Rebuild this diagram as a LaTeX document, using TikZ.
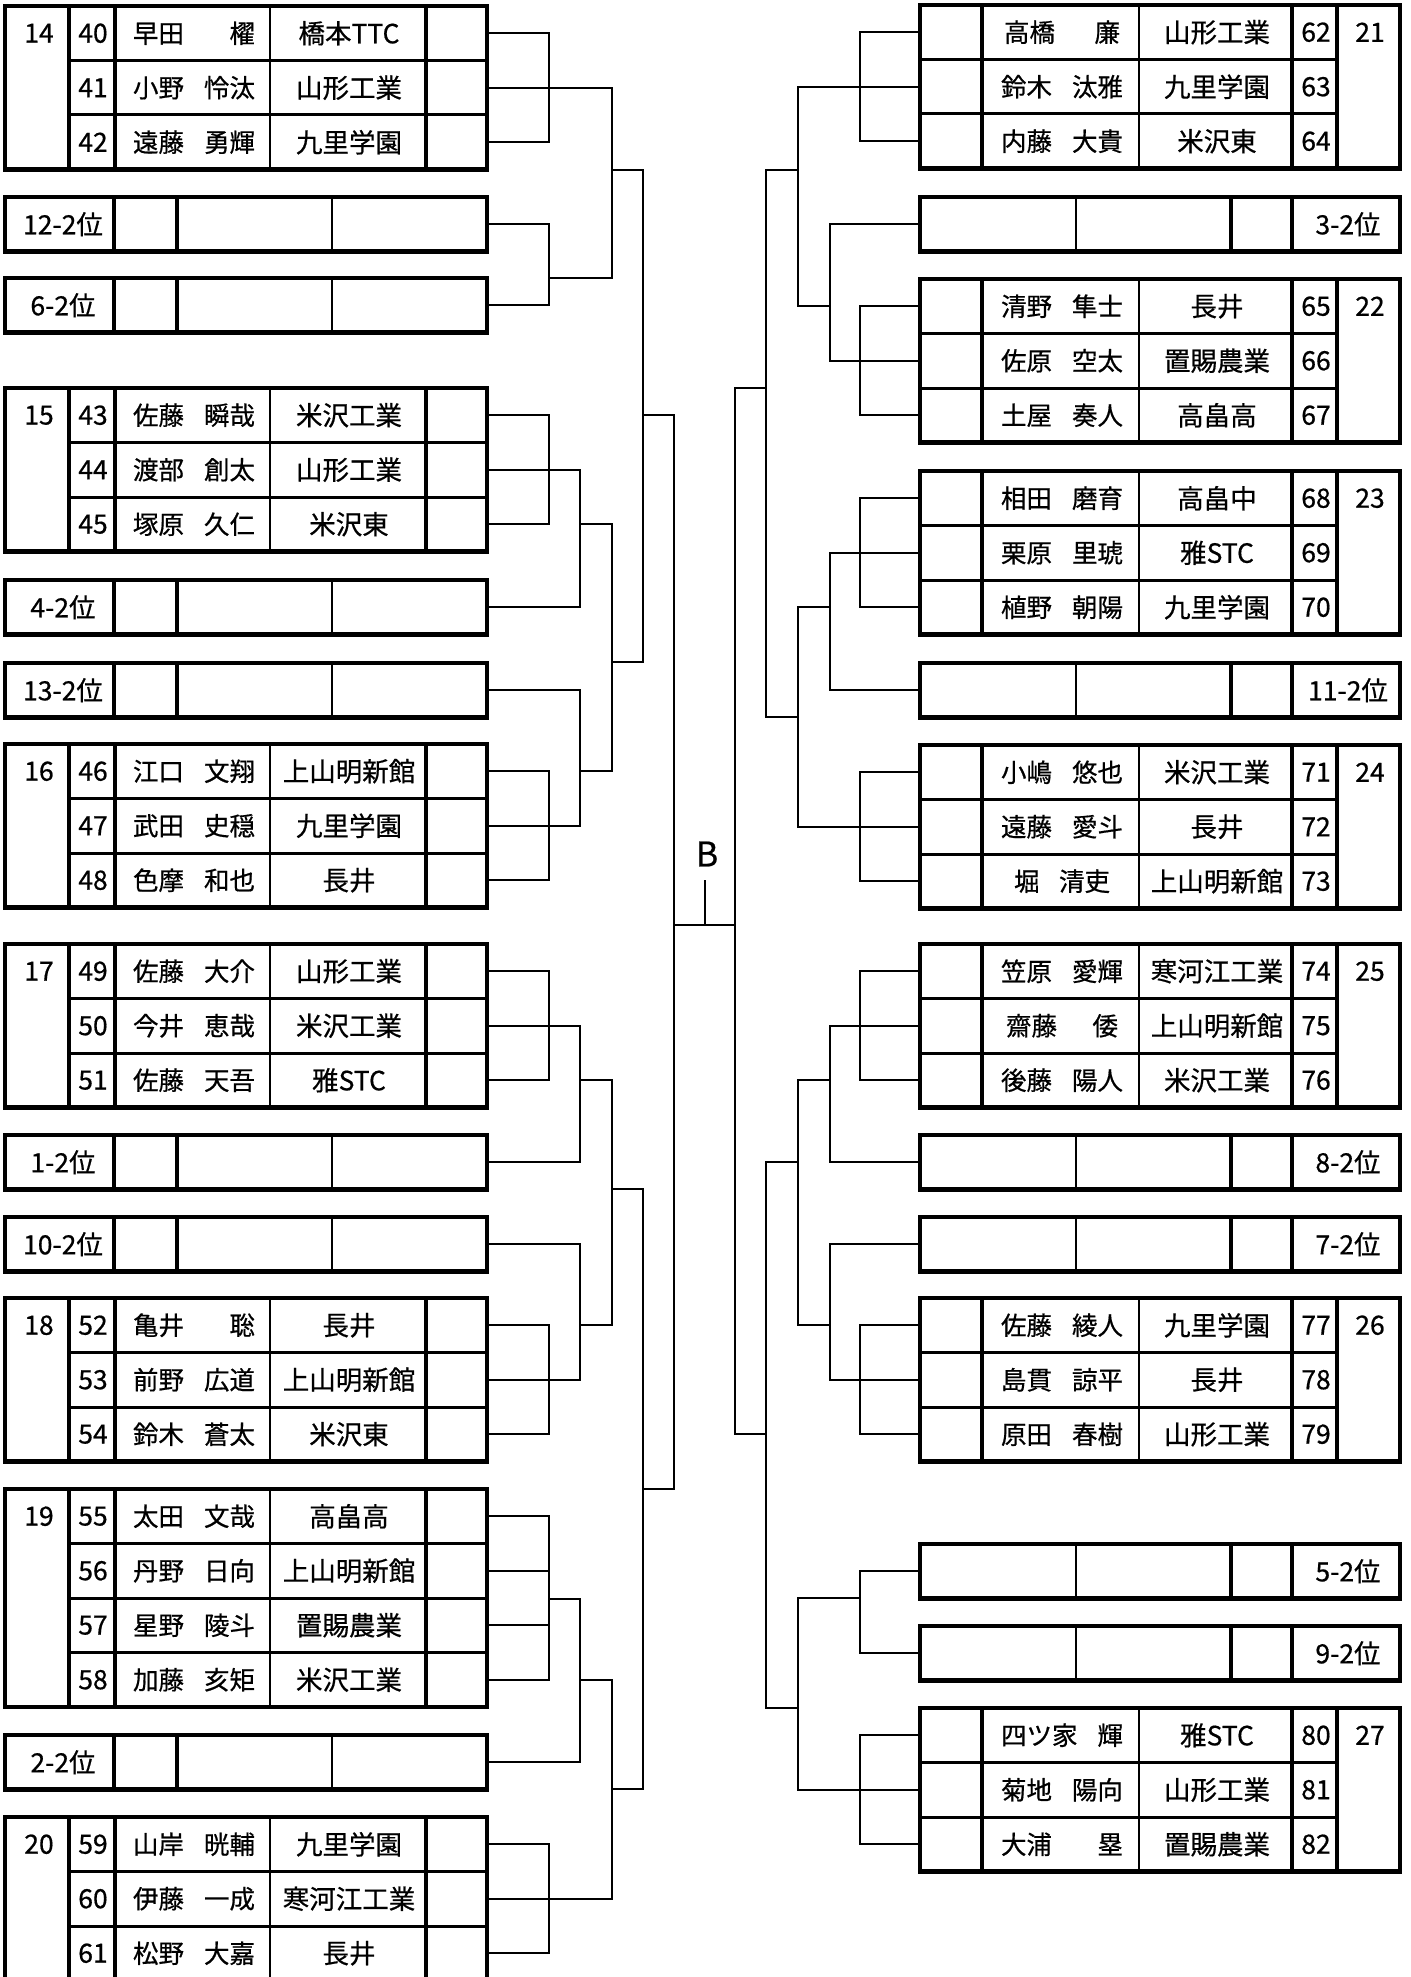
\documentclass[tikz,border=0pt]{standalone}
\usepackage{fontspec}
\setmainfont{Noto Sans CJK JP}[FakeBold=0.6]
\newfontfamily\jpbold{Noto Sans CJK JP}[FakeBold=0.6]
\tikzset{
  bl/.style={line width=2.4pt, line cap=rect, line join=miter},
  ob/.style={line width=4.2pt},
  tk/.style={line width=4pt},
  tn/.style={line width=2.2pt},
  rs/.style={line width=3pt},
  txt/.style={font=\jpbold\fontsize{26.5}{31}\selectfont, inner sep=0pt, anchor=center},
  blabel/.style={font=\fontsize{34}{40}\selectfont, inner sep=0pt, anchor=center},
}
% player name: family left, given name right, in a box of fixed width
\newcommand{\nm}[3][122]{{\fontsize{25.5}{30}\selectfont\makebox[#1pt][s]{#2\hfill#3}}}
% left group box: #1 group label, #2 top, #3 rows, #4 list num/name/school
\newcommand{\LGroup}[4]{%
  \pgfmathsetmacro\bkB{#2+#3*54.5}%
  \draw[ob] (5,#2) rectangle (487,\bkB);
  \draw[tk] (69,#2) -- (69,\bkB) (115,#2) -- (115,\bkB) (426,#2) -- (426,\bkB);
  \draw[tn] (270,#2) -- (270,\bkB);
  \foreach[count=\i] \n/\p/\s in {#4} {
    \pgfmathsetmacro\yc{#2+(\i-0.5)*54.5}
    \pgfmathsetmacro\ys{#2+\i*54.5}
    \node[txt] (n\n) at (93,\yc) {\n};
    \node[txt] (m\n) at (194,\yc) {\p};
    \node[txt] (s\n) at (349,\yc) {\s};
    \coordinate (p\n) at (487,\yc);
    \ifnum\i<#3 \draw[rs] (69,\ys) -- (487,\ys); \fi
  }
  \node[txt] (g#1) at (39,#2+27.25) {#1};
}
% left seed box: #1 id, #2 label, #3 top
\newcommand{\LSeed}[3]{%
  \pgfmathsetmacro\bkB{#3+54.5}%
  \draw[ob] (5,#3) rectangle (487,\bkB);
  \draw[tk] (114,#3) -- (114,\bkB) (177,#3) -- (177,\bkB);
  \draw[tn] (332,#3) -- (332,\bkB);
  \node[txt] (l#1) at (63,#3+27.25) {#2};
  \coordinate (q#1) at (487,#3+27.25);
}
% right group box
\newcommand{\RGroup}[4]{%
  \pgfmathsetmacro\bkB{#2+#3*54.5}%
  \draw[ob] (920,#2) rectangle (1400,\bkB);
  \draw[tk] (982,#2) -- (982,\bkB) (1292,#2) -- (1292,\bkB) (1337,#2) -- (1337,\bkB);
  \draw[tn] (1139,#2) -- (1139,\bkB);
  \foreach[count=\i] \n/\p/\s in {#4} {
    \pgfmathsetmacro\yc{#2+(\i-0.5)*54.5}
    \pgfmathsetmacro\ys{#2+\i*54.5}
    \node[txt] (n\n) at (1316,\yc) {\n};
    \node[txt] (m\n) at (1062,\yc) {\p};
    \node[txt] (s\n) at (1217,\yc) {\s};
    \coordinate (p\n) at (920,\yc);
    \ifnum\i<#3 \draw[rs] (920,\ys) -- (1337,\ys); \fi
  }
  \node[txt] (g#1) at (1370,#2+27.25) {#1};
}
% right seed box
\newcommand{\RSeed}[3]{%
  \pgfmathsetmacro\bkB{#3+54.5}%
  \draw[ob] (920,#3) rectangle (1400,\bkB);
  \draw[tn] (1076,#3) -- (1076,\bkB);
  \draw[tk] (1231,#3) -- (1231,\bkB) (1292,#3) -- (1292,\bkB);
  \node[txt] (l#1) at (1348,#3+27.25) {#2};
  \coordinate (q#1) at (920,#3+27.25);
}
% connectors
\newcommand{\bkJ}[3]{\draw[bl] (#1) -| (#2 -| #3) -- (#2);}
\newcommand{\bkH}[2]{\draw[bl] (#1) -- (#1 -| #2);}
\newcommand{\bkV}[3]{\draw[bl] (#1 -| #3) -- (#2 -| #3);}
\newcommand{\bkS}[3]{\draw[bl] (#1 -| #2) -- (#1 -| #3);}
\begin{document}
\begin{tikzpicture}[x=1pt,y=-1pt]
\useasboundingbox (0,0) rectangle (1410,1977);
\fill[white] (0,0) rectangle (1410,1977);
\clip (0,0) rectangle (1410,1977);

% ---------- left boxes ----------
\LGroup{14}{6}{3}{40/\nm{早田}{櫂}/橋本TTC, 41/\nm{小野}{怜汰}/山形工業, 42/\nm{遠藤}{勇輝}/九里学園}
\LSeed{12}{12-2位}{197}
\LSeed{6}{6-2位}{278}
\LGroup{15}{388}{3}{43/\nm{佐藤}{瞬哉}/米沢工業, 44/\nm{渡部}{創太}/山形工業, 45/\nm{塚原}{久仁}/米沢東}
\LSeed{4}{4-2位}{580}
\LSeed{13}{13-2位}{663}
\LGroup{16}{744}{3}{46/\nm{江口}{文翔}/上山明新館, 47/\nm{武田}{史穏}/九里学園, 48/\nm{色摩}{和也}/長井}
\LGroup{17}{944}{3}{49/\nm{佐藤}{大介}/山形工業, 50/\nm{今井}{恵哉}/米沢工業, 51/\nm{佐藤}{天吾}/雅STC}
\LSeed{1}{1-2位}{1135}
\LSeed{10}{10-2位}{1217}
\LGroup{18}{1298}{3}{52/\nm{亀井}{聡}/長井, 53/\nm{前野}{広道}/上山明新館, 54/\nm{鈴木}{蒼太}/米沢東}
\LGroup{19}{1489}{4}{55/\nm{太田}{文哉}/高畠高, 56/\nm{丹野}{日向}/上山明新館, 57/\nm{星野}{陵斗}/置賜農業, 58/\nm{加藤}{亥矩}/米沢工業}
\LSeed{2}{2-2位}{1735}
\LGroup{20}{1817}{3}{59/\nm{山岸}{晄輔}/九里学園, 60/\nm{伊藤}{一成}/寒河江工業, 61/\nm{松野}{大嘉}/長井}

% ---------- right boxes ----------
\RGroup{21}{5}{3}{62/\nm[116]{高橋}{廉}/山形工業, 63/\nm{鈴木}{汰雅}/九里学園, 64/\nm{内藤}{大貴}/米沢東}
\RSeed{3}{3-2位}{197}
\RGroup{22}{279}{3}{65/\nm{清野}{隼士}/長井, 66/\nm{佐原}{空太}/置賜農業, 67/\nm{土屋}{奏人}/高畠高}
\RGroup{23}{471}{3}{68/\nm{相田}{磨育}/高畠中, 69/\nm{栗原}{里琥}/雅STC, 70/\nm{植野}{朝陽}/九里学園}
\RSeed{11}{11-2位}{663}
\RGroup{24}{745}{3}{71/\nm{小嶋}{悠也}/米沢工業, 72/\nm{遠藤}{愛斗}/長井, 73/\nm[96]{堀}{清吏}/上山明新館}
\RGroup{25}{944}{3}{74/\nm{笠原}{愛輝}/寒河江工業, 75/\nm[112]{齋藤}{倭}/上山明新館, 76/\nm{後藤}{陽人}/米沢工業}
\RSeed{8}{8-2位}{1135}
\RSeed{7}{7-2位}{1217}
\RGroup{26}{1298}{3}{77/\nm{佐藤}{綾人}/九里学園, 78/\nm{島貫}{諒平}/長井, 79/\nm{原田}{春樹}/山形工業}
\RSeed{5}{5-2位}{1544}
\RSeed{9}{9-2位}{1626}
\RGroup{27}{1708}{3}{80/\nm{四ツ家}{輝}/雅STC, 81/\nm{菊地}{陽向}/山形工業, 82/\nm{大浦}{塁}/置賜農業}

% ---------- bracket columns and levels ----------
\coordinate (L1) at (549,0);
\coordinate (L2) at (580,0);
\coordinate (L3) at (612,0);
\coordinate (L4) at (643,0);
\coordinate (L5) at (674,0);
\coordinate (R1) at (860,0);
\coordinate (R2) at (830,0);
\coordinate (R3) at (798,0);
\coordinate (R4) at (766,0);
\coordinate (R5) at (735,0);
\coordinate (y170) at (0,170);
\coordinate (y278) at (0,278);
\coordinate (y662) at (0,662);
\coordinate (y1189) at (0,1189);
\coordinate (y1599) at (0,1599);
\coordinate (y1789) at (0,1789);
\coordinate (y1489) at (0,1489);
\coordinate (y925) at (0,925);
\coordinate (y717) at (0,717);
\coordinate (y388) at (0,388);
\coordinate (y1598) at (0,1598);
\coordinate (y1708) at (0,1708);

% ---------- left connectors ----------
\bkJ{p40}{p42}{L1}
\bkH{p41}{L3}
\bkJ{q12}{q6}{L1}
\bkS{y278}{L1}{L3}
\bkV{p41}{y278}{L3}
\bkS{y170}{L3}{L4}

\bkJ{p43}{p45}{L1}
\bkJ{p44}{q4}{L2}
\bkS{p45}{L2}{L3}
\bkJ{q13}{p47}{L2}
\bkJ{p46}{p48}{L1}
\bkS{p46}{L2}{L3}
\bkV{p45}{p46}{L3}
\bkS{y662}{L3}{L4}
\bkV{y170}{y662}{L4}
\bkS{p43}{L4}{L5}

\bkJ{p49}{p51}{L1}
\bkJ{p50}{q1}{L2}
\bkS{p51}{L2}{L3}
\bkJ{q10}{p53}{L2}
\bkJ{p52}{p54}{L1}
\bkS{p52}{L2}{L3}
\bkV{p51}{p52}{L3}
\bkS{y1189}{L3}{L4}

\bkJ{p55}{p58}{L1}
\bkH{p56}{L1}
\bkH{p57}{L1}
\bkS{y1599}{L1}{L2}
\bkH{q2}{L2}
\bkV{y1599}{q2}{L2}
\bkS{p58}{L2}{L3}
\bkJ{p59}{p61}{L1}
\bkH{p60}{L3}
\bkV{p58}{p60}{L3}
\bkS{y1789}{L3}{L4}
\bkV{y1189}{y1789}{L4}
\bkS{y1489}{L4}{L5}
\bkV{p43}{y1489}{L5}

% ---------- centre ----------
\bkS{y925}{L5}{R5}
\node[blabel] (B) at (707,854) {B};
\coordinate (bstem) at (705,881);
\draw[bl] (bstem) -- (bstem |- y925);

% ---------- right connectors ----------
\bkJ{p62}{p64}{R1}
\bkH{p63}{R3}
\bkH{q3}{R2}
\bkJ{p65}{p67}{R1}
\bkH{p66}{R2}
\bkV{q3}{p66}{R2}
\bkS{p65}{R2}{R3}
\bkV{p63}{p65}{R3}
\bkS{y170}{R3}{R4}

\bkJ{p68}{p70}{R1}
\bkJ{p69}{q11}{R2}
\bkS{p70}{R2}{R3}
\bkJ{p71}{p73}{R1}
\bkH{p72}{R3}
\bkV{p70}{p72}{R3}
\bkS{y717}{R3}{R4}
\bkV{y170}{y717}{R4}
\bkS{y388}{R4}{R5}

\bkJ{p74}{p76}{R1}
\bkJ{p75}{q8}{R2}
\bkS{p76}{R2}{R3}
\bkJ{q7}{p78}{R2}
\bkJ{p77}{p79}{R1}
\bkS{p77}{R2}{R3}
\bkV{p76}{p77}{R3}
\bkS{q8}{R3}{R4}

\bkJ{q5}{q9}{R1}
\bkS{y1598}{R1}{R3}
\bkJ{p80}{p82}{R1}
\bkH{p81}{R3}
\bkV{y1598}{p81}{R3}
\bkS{y1708}{R3}{R4}
\bkV{q8}{y1708}{R4}
\bkS{p79}{R4}{R5}
\bkV{y388}{p79}{R5}
\end{tikzpicture}
\end{document}
